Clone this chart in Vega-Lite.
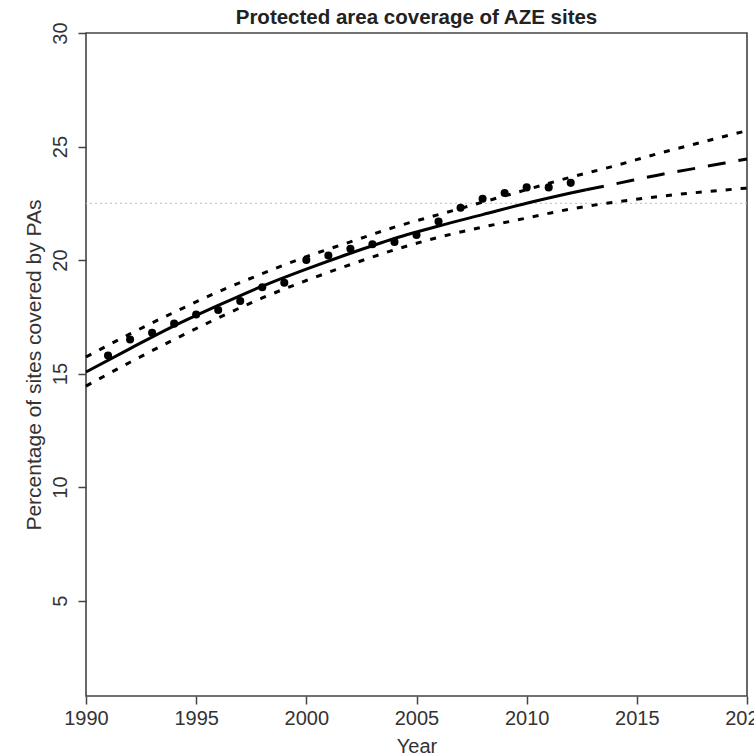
{
  "$schema": "https://vega.github.io/schema/vega-lite/v6.json",
  "autosize": "none",
  "width": 661,
  "height": 663,
  "padding": {"left": 86, "top": 33, "right": 7, "bottom": 59},
  "background": "white",
  "config": {
    "font": "Liberation Sans",
    "view": {"stroke": "#444444", "strokeWidth": 1.6},
    "axis": {"grid": false, "domain": false, "tickColor": "#444444", "tickWidth": 1.5, "tickSize": 8,
             "labelFont": "Liberation Sans", "labelFontSize": 20, "labelColor": "#333333",
             "titleFont": "Liberation Sans", "titleFontSize": 20, "titleFontWeight": "normal", "titleColor": "#333333"}
  },
  "title": {"text": "Protected area coverage of AZE sites", "font": "Liberation Sans", "fontSize": 20.5, "fontWeight": "bold", "color": "#222222", "offset": -7, "anchor": "middle"},
  "datasets": {
    "obs": [
      {"year": 1991, "value": 15.8}, {"year": 1992, "value": 16.5}, {"year": 1993, "value": 16.8},
      {"year": 1994, "value": 17.2}, {"year": 1995, "value": 17.6}, {"year": 1996, "value": 17.8},
      {"year": 1997, "value": 18.2}, {"year": 1998, "value": 18.8}, {"year": 1999, "value": 19.0},
      {"year": 2000, "value": 20.0}, {"year": 2001, "value": 20.2}, {"year": 2002, "value": 20.5},
      {"year": 2003, "value": 20.7}, {"year": 2004, "value": 20.8}, {"year": 2005, "value": 21.1},
      {"year": 2006, "value": 21.7}, {"year": 2007, "value": 22.3}, {"year": 2008, "value": 22.7},
      {"year": 2009, "value": 22.95}, {"year": 2010, "value": 23.2}, {"year": 2011, "value": 23.2},
      {"year": 2012, "value": 23.4}
    ],
    "fit": [
      {"year": 1990, "value": 15.07}, {"year": 1992, "value": 16.1}, {"year": 1994, "value": 17.1},
      {"year": 1996, "value": 18.0}, {"year": 1998, "value": 18.85}, {"year": 2000, "value": 19.6},
      {"year": 2002, "value": 20.3}, {"year": 2004, "value": 20.95}, {"year": 2006, "value": 21.5},
      {"year": 2008, "value": 22.0}, {"year": 2010, "value": 22.5}, {"year": 2012, "value": 22.95},
      {"year": 2012.7, "value": 23.1}
    ],
    "proj": [
      {"year": 2012.7, "value": 23.1}, {"year": 2014, "value": 23.35}, {"year": 2016, "value": 23.75},
      {"year": 2018, "value": 24.1}, {"year": 2020, "value": 24.45}
    ],
    "upper": [
      {"year": 1990, "value": 15.73}, {"year": 1992, "value": 16.75}, {"year": 1994, "value": 17.7},
      {"year": 1996, "value": 18.6}, {"year": 1998, "value": 19.4}, {"year": 2000, "value": 20.15},
      {"year": 2002, "value": 20.8}, {"year": 2004, "value": 21.45}, {"year": 2006, "value": 22.0},
      {"year": 2008, "value": 22.55}, {"year": 2010, "value": 23.1}, {"year": 2012, "value": 23.65},
      {"year": 2014, "value": 24.15}, {"year": 2016, "value": 24.7}, {"year": 2018, "value": 25.2},
      {"year": 2020, "value": 25.7}
    ],
    "lower": [
      {"year": 1990, "value": 14.45}, {"year": 1992, "value": 15.5}, {"year": 1994, "value": 16.5},
      {"year": 1996, "value": 17.45}, {"year": 1998, "value": 18.33}, {"year": 2000, "value": 19.1},
      {"year": 2002, "value": 19.8}, {"year": 2004, "value": 20.45}, {"year": 2006, "value": 21.0},
      {"year": 2008, "value": 21.45}, {"year": 2010, "value": 21.85}, {"year": 2012, "value": 22.25},
      {"year": 2014, "value": 22.55}, {"year": 2016, "value": 22.8}, {"year": 2018, "value": 23.0},
      {"year": 2020, "value": 23.17}
    ],
    "target": [{"value": 22.5}]
  },
  "layer": [
    {
      "data": {"name": "target"},
      "mark": {"type": "rule", "color": "#bbbbbb", "strokeWidth": 1, "strokeDash": [2, 3]},
      "encoding": {"y": {"field": "value", "type": "quantitative", "scale": {"domain": [0.8, 30]}}}
    },
    {
      "data": {"name": "upper"},
      "mark": {"type": "line", "color": "black", "strokeWidth": 3, "strokeDash": [6, 9], "interpolate": "monotone"},
      "encoding": {
        "x": {"field": "year", "type": "quantitative"},
        "y": {"field": "value", "type": "quantitative"}
      }
    },
    {
      "data": {"name": "lower"},
      "mark": {"type": "line", "color": "black", "strokeWidth": 3, "strokeDash": [6, 9], "interpolate": "monotone"},
      "encoding": {
        "x": {"field": "year", "type": "quantitative"},
        "y": {"field": "value", "type": "quantitative"}
      }
    },
    {
      "data": {"name": "proj"},
      "mark": {"type": "line", "color": "black", "strokeWidth": 3, "strokeDash": [18, 13], "interpolate": "monotone"},
      "encoding": {
        "x": {"field": "year", "type": "quantitative"},
        "y": {"field": "value", "type": "quantitative"}
      }
    },
    {
      "data": {"name": "fit"},
      "mark": {"type": "line", "color": "black", "strokeWidth": 3, "interpolate": "monotone"},
      "encoding": {
        "x": {"field": "year", "type": "quantitative"},
        "y": {"field": "value", "type": "quantitative"}
      }
    },
    {
      "data": {"name": "obs"},
      "mark": {"type": "circle", "color": "black", "opacity": 1, "size": 65},
      "encoding": {
        "x": {"field": "year", "type": "quantitative",
              "scale": {"domain": [1990, 2020], "nice": false, "zero": false},
              "axis": {"title": "Year", "values": [1990, 1995, 2000, 2005, 2010, 2015, 2020], "format": "d", "labelPadding": 4, "titlePadding": 8, "labelFlush": false}},
        "y": {"field": "value", "type": "quantitative",
              "scale": {"domain": [0.8, 30], "nice": false, "zero": false},
              "axis": {"title": "Percentage of sites covered by PAs", "titleFontSize": 21, "values": [5, 10, 15, 20, 25, 30], "labelAngle": -90, "labelAlign": "center", "labelBaseline": "bottom", "labelPadding": 8, "titlePadding": 6, "labelFlush": false}}
      }
    }
  ]
}
